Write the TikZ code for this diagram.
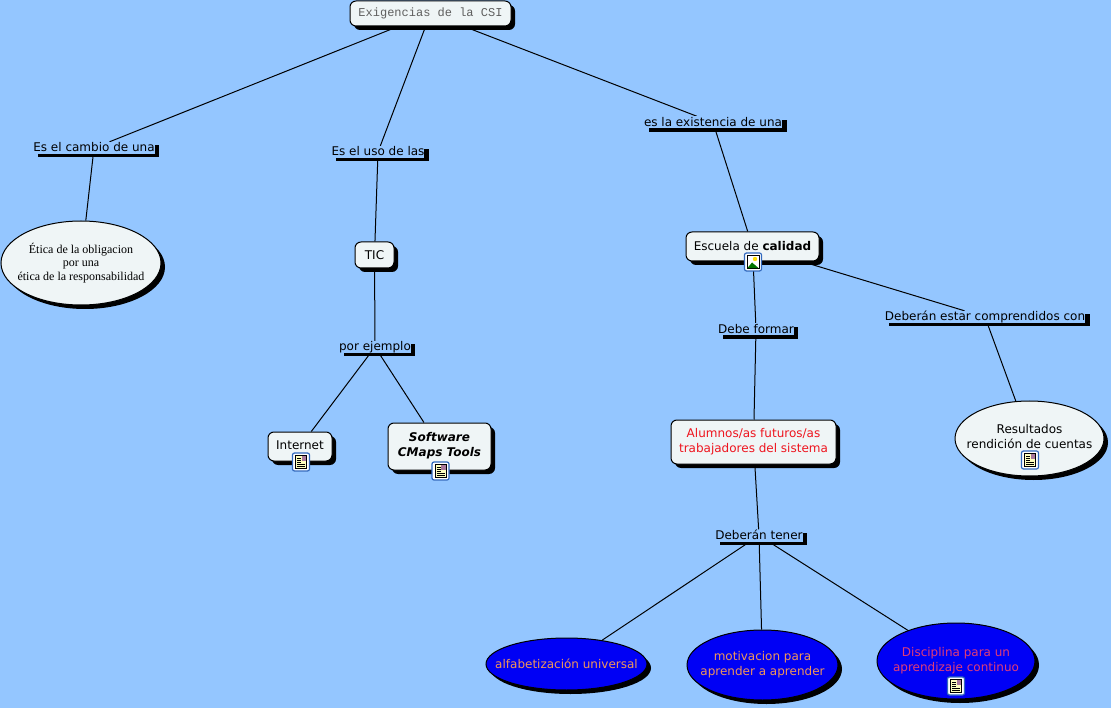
\documentclass[tikz,border=0pt]{standalone}
\usepackage{fontspec}
\setmainfont{DejaVu Sans}
\newfontfamily\monofam{Liberation Mono}
\newfontfamily\seriffam{Liberation Serif}
\usetikzlibrary{shapes.geometric,shadows,backgrounds}
\definecolor{pagebg}{RGB}{148,198,255}
\definecolor{nodebg}{RGB}{239,245,246}
\definecolor{titlegray}{RGB}{95,95,95}
\definecolor{framebl}{RGB}{50,105,190}
\definecolor{paleyel}{RGB}{255,255,190}
\definecolor{orangetx}{RGB}{240,150,90}
\definecolor{redtx}{RGB}{238,20,30}
\definecolor{pinktx}{RGB}{225,60,120}
\definecolor{deepblue}{RGB}{0,0,245}
\newcommand{\liftby}[1]{\rule[-#1]{0pt}{0pt}}
\tikzset{
    blackshadow/.style = {drop shadow={shadow xshift=4pt, shadow yshift=-4pt, fill=black, opacity=1}},
    conceptbox/.style = {rectangle, rounded corners=6pt, draw=black, line width=1pt, fill=nodebg, blackshadow,
        inner sep=0pt, align=center, font=\fontsize{12}{15}\selectfont},
    conceptoval/.style = {ellipse, draw=black, line width=1pt, fill=nodebg, blackshadow,
        inner xsep=-50pt, inner ysep=-5pt, align=center, font=\fontsize{12}{15}\selectfont},
    blueoval/.style = {conceptoval, fill=deepblue, text=orangetx},
    linkbox/.style = {rectangle, fill=pagebg, inner sep=0pt, text height=10pt, text depth=2pt,
        drop shadow={shadow xshift=4.5pt, shadow yshift=-3.5pt, fill=black, opacity=1},
        font=\fontsize{12}{15}\selectfont},
    conn/.style = {line width=1pt, black},
    iconframe/.style = {rectangle, rounded corners=2pt, draw=framebl, line width=1.2pt, fill=white,
        minimum width=17pt, minimum height=18pt, inner sep=0pt},
    docicon/.pic = {
        \node (-frame) [iconframe] at (0,0) {};
        \draw[fill=paleyel, line width=0.8pt] (-5.5,-6.5) rectangle (5.5,6.5);
        \fill[framebl!60!red!70!white] (0.5,-6) rectangle (5,-1);
        \foreach \yy in {-4,-2,0,2,4} \draw[line width=0.8pt] (-4,\yy) -- (0,\yy);
        \foreach \yy in {2,4} \draw[line width=0.8pt] (0,\yy) -- (4,\yy);
    },
    imageicon/.pic = {
        \node (-frame) [iconframe] at (0,0) {};
        \draw[fill=white, line width=0.8pt] (-6,-6.5) rectangle (6,6.5);
        \fill[yellow!80!orange] (2,-3) circle (2.2);
        \fill[green!45!black] (-5.6,6.1) -- (-1,0.5) -- (5.6,6.1) -- cycle;
    }
}
\begin{document}
\begin{tikzpicture}[x=1pt, y=-1pt]
    \useasboundingbox (0,0) rectangle (1111,708);

    \node (root) [conceptbox, minimum width=161pt, minimum height=25pt, text=titlegray, font=\monofam\fontsize{12}{15}\selectfont] at (430.5,13.5) {Exigencias de la CSI};

    \node (cambio) [linkbox] at (94,148) {Es el cambio de una};
    \node (uso) [linkbox] at (378,152) {Es el uso de las};
    \node (existencia) [linkbox] at (713,122.5) {es la existencia de una};

    \node (etica) [conceptoval, minimum width=160pt, minimum height=84pt, font=\seriffam\fontsize{12}{13.5}\selectfont] at (81,263) {Ética de la obligacion\\por una\\ética de la responsabilidad};
    \node (tic) [conceptbox, minimum width=39pt, minimum height=26pt] at (374.5,255) {TIC};
    \node (ejemplo) [linkbox] at (375,347) {por ejemplo};
    \node (internet) [conceptbox, minimum width=64pt, minimum height=29pt] at (300,446.5) {Internet\liftby{3pt}};
    \node (software) [conceptbox, minimum width=103pt, minimum height=47pt, font=\fontsize{12}{15}\selectfont\bfseries\itshape] at (439.5,446.5) {Software\\CMaps Tools\liftby{4pt}};

    \node (escuela) [conceptbox, minimum width=133pt, minimum height=29pt] at (752.5,246.5) {Escuela de \textbf{calidad}};
    \node (formar) [linkbox] at (756,329.5) {Debe formar};
    \node (comprend) [linkbox] at (985,317) {Deberán estar comprendidos con};
    \node (resultados) [conceptoval, minimum width=149pt, minimum height=75pt] at (1029.5,438.5) {Resultados\\rendición de cuentas\liftby{4pt}};
    \node (alumnos) [conceptbox, minimum width=165pt, minimum height=44pt, text=redtx] at (753.5,442) {Alumnos/as futuros/as\\trabajadores del sistema};
    \node (tener) [linkbox] at (759,535.5) {Deberán tener};

    \node (alfab) [blueoval, minimum width=161pt, minimum height=52pt] at (566.5,664) {alfabetización universal};
    \node (motiv) [blueoval, minimum width=151pt, minimum height=70pt] at (762.5,665) {motivacion para\\aprender a aprender};
    \node (discip) [blueoval, minimum width=158pt, minimum height=76pt, text=pinktx] at (956,661) {Disciplina para un\\aprendizaje continuo\liftby{3pt}};

    \begin{pgfonlayer}{background}
        \fill[pagebg] (0,0) rectangle (1111,708);
        \draw[conn] (root) -- (cambio);
        \draw[conn] (root) -- (uso);
        \draw[conn] (root) -- (existencia);
        \draw[conn] (cambio) -- (etica);
        \draw[conn] (uso) -- (tic);
        \draw[conn] (tic) -- (ejemplo);
        \draw[conn] (ejemplo) -- (internet);
        \draw[conn] (ejemplo) -- (software);
        \draw[conn] (existencia) -- (escuela);
        \draw[conn] (escuela) -- (formar);
        \draw[conn] (escuela) -- (comprend);
        \draw[conn] (comprend) -- (resultados);
        \draw[conn] (formar) -- (alumnos);
        \draw[conn] (alumnos) -- (tener);
        \draw[conn] (tener) -- (alfab);
        \draw[conn] (tener) -- (motiv);
        \draw[conn] (tener) -- (discip);
    \end{pgfonlayer}

    \pic (icointernet) at (301,462) {docicon};
    \pic (icosoftware) at (440.5,471) {docicon};
    \pic (icoescuela) at (753,262) {imageicon};
    \pic (icoresult) at (1030,460) {docicon};
    \pic (icodiscip) at (956,686) {docicon};
\end{tikzpicture}
\end{document}
